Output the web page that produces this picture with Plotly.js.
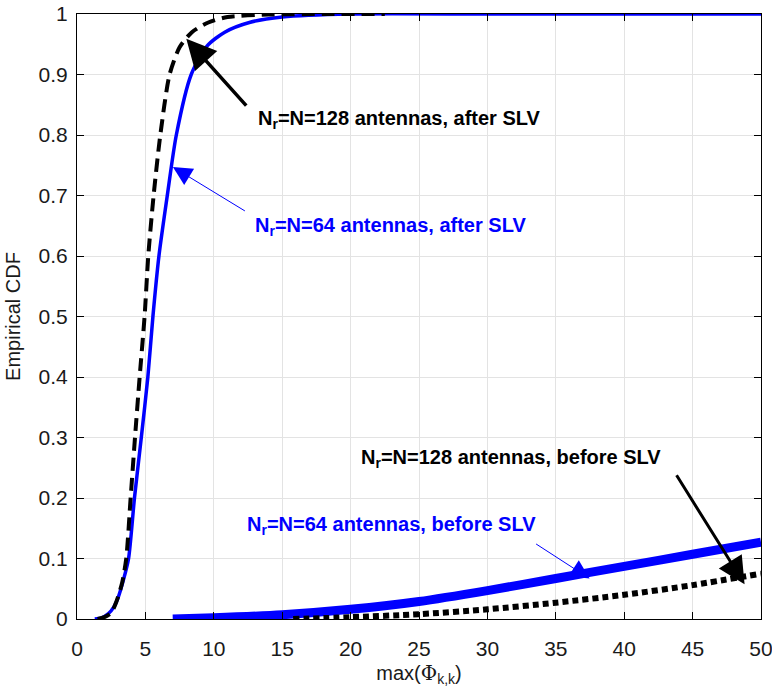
<!DOCTYPE html>
<html>
<head>
<meta charset="utf-8">
<script src="https://cdn.plot.ly/plotly-3.0.1.min.js"></script>
<style>
  html, body { margin: 0; padding: 0; background: #ffffff; }
  #chart { width: 772px; height: 694px; }
</style>
</head>
<body>
<div id="chart"></div>
<script>
// Empirical CDF of max(Phi_k,k), after and before SLV, for two array sizes.

// N_r = N = 128 antennas, after SLV
const x128After = [1.5, 2.0, 2.5, 2.9, 3.3, 3.6, 3.92, 4.24, 4.58, 4.94, 5.21, 5.6, 6.09, 6.77, 7.5, 8.4, 9.6, 11.0, 14.0, 18.0, 22.5];
const y128After = [0.0, 0.003, 0.01, 0.03, 0.06, 0.1, 0.2, 0.3, 0.4, 0.5, 0.6, 0.7, 0.8, 0.9, 0.945, 0.97, 0.986, 0.995, 0.999, 1.0, 1.0];

// N_r = N = 64 antennas, after SLV
const x64After = [1.3, 1.8, 2.3, 2.7, 3.0, 3.4, 3.77, 4.2, 4.7, 5.18, 5.55, 5.99, 6.6, 7.26, 8.35, 9.5, 10.8, 12.6, 15.0, 20.0, 30.0, 40.0, 50.0];
const y64After = [0.0, 0.002, 0.009, 0.02, 0.035, 0.065, 0.1, 0.2, 0.3, 0.4, 0.5, 0.6, 0.7, 0.8, 0.9, 0.947, 0.97, 0.986, 0.995, 1.0, 1.0, 1.0, 1.0];

// N_r = N = 64 antennas, before SLV
const x64Before = [7.0, 10.0, 15.0, 20.0, 25.0, 30.0, 35.0, 40.0, 45.0, 50.0];
const y64Before = [0.0, 0.002, 0.007, 0.016, 0.029, 0.047, 0.067, 0.087, 0.107, 0.127];

// N_r = N = 128 antennas, before SLV
const x128Before = [15.8, 20.0, 25.0, 30.0, 35.0, 40.0, 45.0, 50.0];
const y128Before = [0.0, 0.003, 0.008, 0.016, 0.027, 0.04, 0.056, 0.075];

const xTicks = [0, 5, 10, 15, 20, 25, 30, 35, 40, 45, 50];
const yTicks = [0, 0.1, 0.2, 0.3, 0.4, 0.5, 0.6, 0.7, 0.8, 0.9, 1];
const yTickText = ['0', '0.1', '0.2', '0.3', '0.4', '0.5', '0.6', '0.7', '0.8', '0.9', '1'];

const BLUE = '#0000ff';
const BLACK = '#000000';
const TEXT = '#1a1a1a';
const FONT = 'Liberation Sans, Arial, Helvetica, sans-serif';

const traces = [
  { x: x64Before, y: y64Before, mode: 'lines', line: { color: BLUE, width: 9, shape: 'spline', smoothing: 0.8 } },
  { x: x128Before, y: y128Before, mode: 'lines', line: { color: BLACK, width: 6, dash: '6px,4px', shape: 'spline', smoothing: 0.8 } },
  { x: x64After, y: y64After, mode: 'lines', line: { color: BLUE, width: 3.5, shape: 'spline', smoothing: 0.7 } },
  { x: x128After, y: y128After, mode: 'lines', line: { color: BLACK, width: 4, dash: '13px,7px', shape: 'spline', smoothing: 0.7 } }
];

const labelFont = (c) => ({ family: FONT, size: 20, color: c, weight: 'bold' });

// Arrow from (ax, ay) to tip (x, y), all in data units
function arrow(x, y, ax, ay, color, w, size) {
  return {
    x: x, y: y, ax: ax, ay: ay, xref: 'x', yref: 'y', axref: 'x', ayref: 'y',
    text: '', showarrow: true, arrowhead: 2, arrowsize: size, arrowwidth: w,
    arrowcolor: color, standoff: 0, startstandoff: 0
  };
}

function label(x, y, txt, color) {
  return {
    x: x, y: y, xref: 'x', yref: 'y', text: txt, showarrow: false,
    xanchor: 'left', yanchor: 'middle', font: labelFont(color)
  };
}

const annotations = [
  label(13.05, 0.826, '<b>N<sub>r</sub>=N=128 antennas, after SLV</b>', BLACK),
  label(12.9, 0.649, '<b>N<sub>r</sub>=N=64 antennas, after SLV</b>', BLUE),
  label(12.3, 0.155, '<b>N<sub>r</sub>=N=64 antennas, before SLV</b>', BLUE),
  label(20.6, 0.266, '<b>N<sub>r</sub>=N=128 antennas, before SLV</b>', BLACK),
  arrow(7.99, 0.959, 12.47, 0.846, BLACK, 3.5, 1.7),
  arrow(7.01, 0.747, 12.38, 0.673, BLUE, 1, 3.8),
  arrow(37.47, 0.0668, 33.45, 0.1256, BLUE, 1, 3.8),
  arrow(48.8, 0.0574, 43.76, 0.240, BLACK, 3, 1.8)
];

function axisBase() {
  return {
    showline: true, linecolor: BLACK, linewidth: 1, mirror: 'ticks',
    ticks: 'inside', ticklen: 7, tickwidth: 1, tickcolor: BLACK,
    showgrid: true, gridcolor: '#e3e3e3', gridwidth: 1, zeroline: false,
    tickfont: { family: FONT, size: 21, color: TEXT },
    ticklabeloverflow: 'allow'
  };
}

const layout = {
  width: 772, height: 694,
  margin: { l: 77, r: 11, t: 14, b: 75 },
  paper_bgcolor: '#ffffff', plot_bgcolor: '#ffffff',
  showlegend: false,
  xaxis: Object.assign(axisBase(), {
    range: [0, 50], tickmode: 'array', tickvals: xTicks,
    ticklabelstandoff: 11,
    title: { text: 'max(<span style="font-family:DejaVu Serif">Φ</span><sub>k,k</sub>)', font: { family: FONT, size: 20, color: TEXT }, standoff: 6 }
  }),
  yaxis: Object.assign(axisBase(), {
    range: [0, 1], tickmode: 'array', tickvals: yTicks, ticktext: yTickText,
    ticklabelstandoff: 4,
    title: { text: 'Empirical CDF', font: { family: FONT, size: 20, color: TEXT }, standoff: 12 }
  }),
  annotations: annotations
};

Plotly.newPlot('chart', traces, layout, { displayModeBar: false, staticPlot: true });
</script>
</body>
</html>
